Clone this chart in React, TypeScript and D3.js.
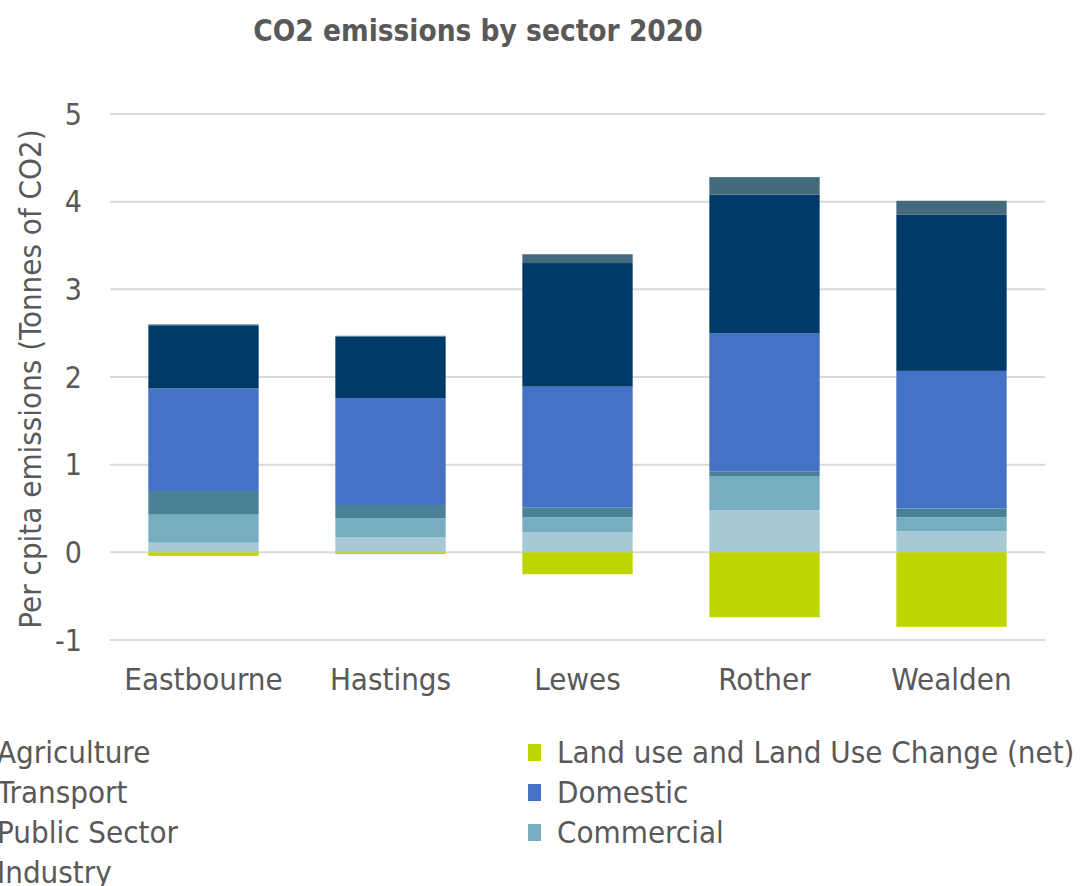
import React, { useEffect, useRef } from 'react';
import * as d3 from 'd3';

// Districts and sectors (values in tonnes CO2 per capita)
const districts = ['Eastbourne', 'Hastings', 'Lewes', 'Rother', 'Wealden'];
const industry = [0.11, 0.17, 0.23, 0.48, 0.24];
const commercial = [0.32, 0.22, 0.17, 0.39, 0.16];
const publicSector = [0.27, 0.15, 0.11, 0.05, 0.10];
const domestic = [1.17, 1.22, 1.38, 1.58, 1.57];
const transport = [0.72, 0.70, 1.41, 1.58, 1.78];
const agriculture = [0.01, 0.01, 0.10, 0.20, 0.16];
const landUse = [-0.04, -0.02, -0.25, -0.74, -0.85];
const yTicks = [-1, 0, 1, 2, 3, 4, 5];

const FONT = '"DejaVu Sans Condensed", "DejaVu Sans", sans-serif';
const TEXT = '#595959';

const App: React.FC = () => {
    const svgRef = useRef<SVGSVGElement>(null);

    useEffect(() => {
        if (!svgRef.current) return;
        const svg = d3.select(svgRef.current);
        svg.selectAll('*').remove();

        const left = 110, right = 1045;
        const y = d3.scaleLinear().domain([-1, 5]).range([640, 114]);
        const x = d3.scaleBand<string>().domain(districts).range([left, right]).paddingInner(0.41).paddingOuter(0.205);

        // stack order bottom -> top
        const series = [
            { name: 'Industry', values: industry, color: '#A7C9D6' },
            { name: 'Commercial', values: commercial, color: '#77ADC1' },
            { name: 'Public Sector', values: publicSector, color: '#4A8196' },
            { name: 'Domestic', values: domestic, color: '#4472C4' },
            { name: 'Transport', values: transport, color: '#003A68' },
            { name: 'Agriculture', values: agriculture, color: '#456A7E' },
            { name: 'Land use and Land Use Change (net)', values: landUse, color: '#BED600' },
        ];

        const rows = districts.map((d, i) => {
            const r: any = { district: d };
            series.forEach(s => { r[s.name] = s.values[i]; });
            return r;
        });
        const stacked = d3.stack<any>()
            .keys(series.map(s => s.name))
            .offset(d3.stackOffsetDiverging)(rows);

        // gridlines
        svg.append('g').selectAll('line').data(yTicks).join('line')
            .attr('x1', left).attr('x2', right)
            .attr('y1', d => y(d)).attr('y2', d => y(d))
            .attr('stroke', '#D9D9D9').attr('stroke-width', 2);

        // y tick labels
        svg.append('g').selectAll('text').data(yTicks).join('text')
            .attr('x', 82).attr('y', d => y(d))
            .attr('dy', '0.36em')
            .attr('text-anchor', 'end')
            .attr('font-family', FONT).attr('font-size', 30).attr('fill', TEXT)
            .text(d => String(d));

        // bars
        stacked.forEach((layer, li) => {
            svg.append('g').attr('fill', series[li].color)
                .selectAll('rect').data(layer).join('rect')
                .attr('x', d => x(d.data.district)!)
                .attr('width', x.bandwidth())
                .attr('y', d => y(Math.max(d[0], d[1])))
                .attr('height', d => Math.abs(y(d[0]) - y(d[1])));
        });

        // category labels
        svg.append('g').selectAll('text').data(districts).join('text')
            .attr('x', d => x(d)! + x.bandwidth() / 2).attr('y', 690)
            .attr('text-anchor', 'middle')
            .attr('font-family', FONT).attr('font-size', 31).attr('fill', TEXT)
            .text(d => d);

        // y axis title
        svg.append('text')
            .attr('transform', 'translate(41,379) rotate(-90)')
            .attr('text-anchor', 'middle')
            .attr('font-family', FONT).attr('font-size', 31).attr('fill', TEXT)
            .text('Per cpita emissions (Tonnes of CO2)');

        // title
        svg.append('text')
            .attr('x', 478).attr('y', 41)
            .attr('text-anchor', 'middle')
            .attr('font-family', FONT).attr('font-size', 29.5).attr('font-weight', 'bold').attr('fill', TEXT)
            .text('CO2 emissions by sector 2020');

        // legend (two columns, left column runs off the page edge)
        const legendItems = [
            { s: series[5], col: 0, row: 0 },
            { s: series[4], col: 0, row: 1 },
            { s: series[2], col: 0, row: 2 },
            { s: series[0], col: 0, row: 3 },
            { s: series[6], col: 1, row: 0 },
            { s: series[3], col: 1, row: 1 },
            { s: series[1], col: 1, row: 2 },
        ];
        const lg = svg.append('g').selectAll('g').data(legendItems).join('g')
            .attr('transform', d => `translate(${d.col === 0 ? -32 : 528},${752 + d.row * 40})`);
        lg.append('rect').attr('x', 0).attr('y', -8).attr('width', 13).attr('height', 17)
            .attr('fill', d => d.s.color);
        lg.append('text').attr('x', 29).attr('dy', '0.36em')
            .attr('font-family', FONT).attr('font-size', 31).attr('fill', TEXT)
            .text(d => d.s.name);
    }, []);

    return (
        <div style={{ position: 'absolute', left: 0, top: 0 }}>
            <svg ref={svgRef} width={1082} height={886} style={{ display: 'block', background: '#fff' }}></svg>
        </div>
    );
};

export default App;
